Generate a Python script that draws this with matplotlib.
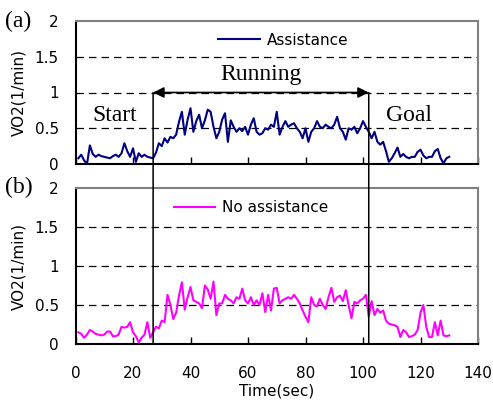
import matplotlib
matplotlib.use("Agg")
import matplotlib.pyplot as plt
from matplotlib.patches import ConnectionPatch

# ---- data ----
time_s = list(range(1, 131))
vo2_assist = [
    0.08, 0.13, 0.05, 0.00, 0.26, 0.14, 0.10, 0.13, 0.11, 0.10,
    0.09, 0.08, 0.11, 0.13, 0.10, 0.15, 0.29, 0.18, 0.10, 0.22,
    0.03, 0.15, 0.10, 0.13, 0.10, 0.09, 0.08, 0.16, 0.29, 0.25,
    0.36, 0.30, 0.38, 0.36, 0.41, 0.59, 0.73, 0.41, 0.62, 0.78,
    0.45, 0.60, 0.69, 0.50, 0.61, 0.76, 0.73, 0.52, 0.36, 0.45,
    0.62, 0.71, 0.31, 0.61, 0.52, 0.45, 0.50, 0.46, 0.52, 0.41,
    0.55, 0.64, 0.45, 0.41, 0.43, 0.50, 0.48, 0.55, 0.52, 0.73,
    0.41, 0.52, 0.60, 0.52, 0.55, 0.57, 0.50, 0.45, 0.36, 0.50,
    0.31, 0.45, 0.50, 0.60, 0.52, 0.50, 0.55, 0.52, 0.50, 0.55,
    0.66, 0.50, 0.45, 0.34, 0.50, 0.48, 0.52, 0.43, 0.50, 0.60,
    0.52, 0.45, 0.36, 0.45, 0.31, 0.27, 0.31, 0.18, 0.03, 0.08,
    0.15, 0.23, 0.10, 0.14, 0.10, 0.08, 0.10, 0.10, 0.17, 0.20,
    0.12, 0.08, 0.10, 0.10, 0.18, 0.21, 0.08, 0.01, 0.08, 0.10,
]
vo2_no_assist = [
    0.15, 0.13, 0.08, 0.12, 0.18, 0.16, 0.13, 0.12, 0.11, 0.12,
    0.16, 0.16, 0.10, 0.10, 0.12, 0.22, 0.21, 0.22, 0.28, 0.15,
    0.10, 0.02, 0.08, 0.12, 0.28, 0.08, 0.15, 0.22, 0.20, 0.30,
    0.28, 0.63, 0.50, 0.32, 0.40, 0.62, 0.79, 0.44, 0.60, 0.73,
    0.56, 0.54, 0.52, 0.46, 0.75, 0.70, 0.58, 0.80, 0.37, 0.52,
    0.52, 0.63, 0.58, 0.56, 0.52, 0.60, 0.58, 0.71, 0.56, 0.52,
    0.60, 0.50, 0.56, 0.50, 0.65, 0.41, 0.63, 0.43, 0.71, 0.72,
    0.52, 0.56, 0.58, 0.60, 0.58, 0.63, 0.58, 0.52, 0.43, 0.35,
    0.28, 0.60, 0.50, 0.48, 0.58, 0.50, 0.45, 0.60, 0.72, 0.54,
    0.60, 0.62, 0.55, 0.69, 0.50, 0.33, 0.54, 0.52, 0.56, 0.58,
    0.63, 0.35, 0.55, 0.37, 0.45, 0.40, 0.43, 0.30, 0.26, 0.25,
    0.24, 0.22, 0.09, 0.18, 0.15, 0.09, 0.10, 0.12, 0.18, 0.40,
    0.50, 0.22, 0.09, 0.09, 0.28, 0.11, 0.30, 0.11, 0.10, 0.11,
]
start_time = 27
goal_time = 102
x_ticks = [0, 20, 40, 60, 80, 100, 120, 140]
y_ticks = [0, 0.5, 1, 1.5, 2]
y_tick_labels = ["0", "0.5", "1", "1.5", "2"]

W, H = 493, 403
fig = plt.figure(figsize=(W / 100, H / 100), dpi=100)
plt.rcParams['font.family'] = ['DejaVu Sans']
serif = ['Liberation Serif', 'DejaVu Serif']

def fx(px):
    return px / W

def fy(py):
    return 1 - py / H

left_px, right_px = 75.5, 478
ax_a = fig.add_axes([fx(left_px), fy(164), fx(right_px - left_px), (164 - 21) / H])
ax_b = fig.add_axes([fx(left_px), fy(344), fx(right_px - left_px), (344 - 188) / H])

for ax in (ax_a, ax_b):
    ax.set_xlim(0, 140)
    ax.set_ylim(0, 2)
    ax.set_xticks(x_ticks)
    ax.set_yticks(y_ticks)
    ax.set_yticklabels(y_tick_labels)
    for yv in [0.5, 1, 1.5]:
        ax.axhline(yv, color='black', lw=0.9, ls=(0, (6, 4)), zorder=1)
    ax.spines['left'].set_linewidth(1.5)
    ax.spines['bottom'].set_linewidth(1.5)
    ax.spines['top'].set_color('#808080')
    ax.spines['right'].set_color('#808080')
    ax.spines['top'].set_linewidth(1.5)
    ax.spines['right'].set_linewidth(1.5)
    ax.tick_params(axis='x', direction='in', length=5, width=1, pad=16, labelsize=11)
    ax.tick_params(axis='y', length=0, pad=12, labelsize=11)
    ax.set_ylabel("VO2(1/min)", fontsize=11, labelpad=6)

ax_a.tick_params(axis='x', labelbottom=False)

la, = ax_a.plot(time_s, vo2_assist, color='#000080', lw=1.5, label='Assistance', zorder=3)
lb, = ax_b.plot(time_s, vo2_no_assist, color='#FF00FF', lw=1.5, label='No assistance', zorder=3)

ax_a.legend(handles=[la], loc='center left', bbox_to_anchor=(0.355, 0.867), frameon=False,
            fontsize=11, handlelength=2.7, handletextpad=0.45, borderaxespad=0, borderpad=0)
ax_b.legend(handles=[lb], loc='center left', bbox_to_anchor=(0.245, 0.872), frameon=False,
            fontsize=11, handlelength=2.7, handletextpad=0.45, borderaxespad=0, borderpad=0)

ax_b.set_xlabel("Time(sec)", fontsize=11, labelpad=2)

# annotations
ax_a.annotate('', xy=(start_time, 1), xytext=(goal_time, 1),
              arrowprops=dict(arrowstyle='<|-|>', color='black', lw=1.2,
                              mutation_scale=16, shrinkA=0, shrinkB=0), zorder=4)
ax_a.text((start_time + goal_time) / 2, 1.25, "Running", fontsize=17, family=serif,
          ha='center', va='center')
ax_a.text(13.5, 0.68, "Start", fontsize=17, family=serif, ha='center', va='center')
ax_a.text(116, 0.68, "Goal", fontsize=17, family=serif, ha='center', va='center')

for tx in (start_time, goal_time):
    con = ConnectionPatch(xyA=(tx, 1), coordsA=ax_a.transData,
                          xyB=(tx, 0), coordsB=ax_b.transData,
                          color='black', lw=1.1, zorder=5)
    fig.add_artist(con)

fig.text(fx(5), fy(21), "(a)", fontsize=17, family=serif, ha='left', va='center')
fig.text(fx(5), fy(187), "(b)", fontsize=17, family=serif, ha='left', va='center')

fig.savefig("out.png", dpi=100)
